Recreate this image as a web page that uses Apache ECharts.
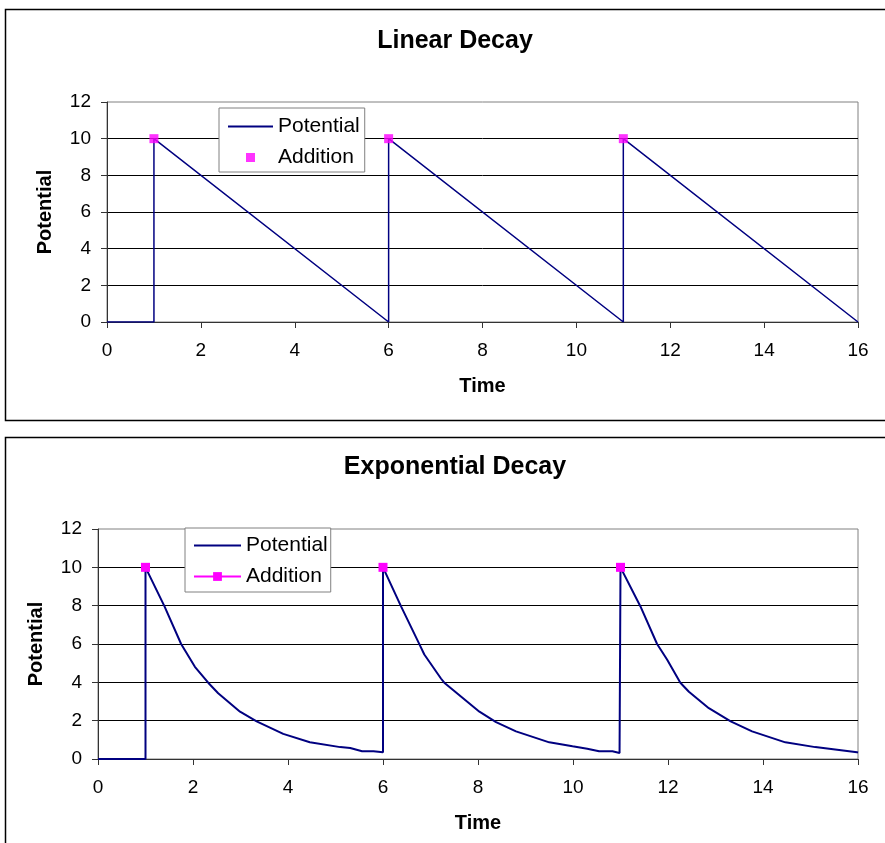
<!DOCTYPE html>
<html>
<head>
<meta charset="utf-8">
<script src="https://cdn.jsdelivr.net/npm/echarts@6/dist/echarts.min.js"></script>
<style>
html,body{margin:0;padding:0;background:#fff;overflow:hidden;}
#chart{width:910px;height:843px;}
</style>
</head>
<body>
<div id="chart"></div>
<script>
// ---- Linear decay data ----
const linearTime      = [0, 1, 1, 6, 6, 11, 11, 16];
const linearPotential = [0, 0, 10, 0, 10, 0, 10, 0];
const linearAddTime   = [1, 6, 11];
const linearAddValue  = [10, 10, 10];

// ---- Exponential decay data ----
const expTime = [
  0, 1, 1, 1.40, 1.75, 2.04, 2.32, 2.53, 2.99, 3.34, 3.90, 4.46, 5.10, 5.31, 5.56, 5.80, 6.00,
  6.00, 6.38, 6.76, 6.87, 7.22, 7.29, 8.03, 8.38, 8.80, 9.50, 9.99, 10.30, 10.55, 10.83, 10.98,
  11.00, 11.42, 11.77, 11.98, 12.26, 12.44, 12.86, 13.32, 13.77, 14.47, 15.10, 15.98, 16.00
];
const expPotential = [
  0, 0, 10, 7.96, 6.00, 4.81, 3.98, 3.43, 2.47, 1.96, 1.31, 0.87, 0.62, 0.57, 0.40, 0.40, 0.35,
  10, 7.96, 6.02, 5.45, 4.20, 3.98, 2.47, 1.92, 1.44, 0.87, 0.66, 0.54, 0.40, 0.40, 0.31,
  10, 7.96, 6.00, 5.19, 3.98, 3.51, 2.65, 1.96, 1.44, 0.87, 0.62, 0.35, 0.33
];
const expAddTime  = [1, 6, 11];
const expAddValue = [10, 10, 10];

const xTicks = {min: 0, max: 16, interval: 2};
const yTicks = {min: 0, max: 12, interval: 2};

const pairs = (xs, ys) => xs.map((x, i) => [x, ys[i]]);
// Addition markers in the exponential chart: a line series whose points are separated by gaps
const withGaps = (xs, ys) => {
  const out = [];
  xs.forEach((x, i) => { if (i > 0) out.push('-'); out.push([x, ys[i]]); });
  return out;
};

const FONT = '"Liberation Sans", Arial, sans-serif';
const NAVY = '#000080';
const MAGENTA = '#FF00FF';
const SQUARE = 'path://M0 0H10V10H0Z';

function xAxisOpt(gridIndex) {
  return {
    type: 'value', gridIndex, min: xTicks.min, max: xTicks.max, interval: xTicks.interval,
    name: 'Time', nameLocation: 'middle', nameGap: 54,
    nameTextStyle: {fontFamily: FONT, fontSize: 20, fontWeight: 'bold', color: '#000'},
    axisLine: {show: true, onZero: false, lineStyle: {color: '#333', width: 1}},
    axisTick: {show: true, length: 6, lineStyle: {color: '#333'}},
    axisLabel: {fontFamily: FONT, fontSize: 19, color: '#000', margin: 19},
    splitLine: {show: false}
  };
}
function yAxisOpt(gridIndex) {
  return {
    type: 'value', gridIndex, min: yTicks.min, max: yTicks.max, interval: yTicks.interval,
    name: 'Potential', nameLocation: 'middle', nameGap: 52,
    nameTextStyle: {fontFamily: FONT, fontSize: 20, fontWeight: 'bold', color: '#000'},
    axisLine: {show: true, lineStyle: {color: '#333', width: 1}},
    axisTick: {show: true, length: 6, lineStyle: {color: '#333'}},
    axisLabel: {fontFamily: FONT, fontSize: 19, color: '#000', margin: 16},
    splitLine: {show: true, showMaxLine: false, lineStyle: {color: '#000', width: 1}}
  };
}
function legendOpt(left, top, items, itemWidth, itemHeight, pad) {
  return {
    orient: 'vertical', left, top, data: items,
    itemWidth, itemHeight, itemGap: 10,
    padding: pad,
    borderColor: '#808080', borderWidth: 1, backgroundColor: '#fff',
    formatter: n => n.split('#')[0],
    textStyle: {fontFamily: FONT, fontSize: 21, color: '#000'},
    selectedMode: false
  };
}
const noDot = {color: 'rgba(0,0,0,0)', borderWidth: 0};

const chart = echarts.init(document.getElementById('chart'), null, {renderer: 'canvas'});
chart.setOption({
  backgroundColor: '#fff',
  animation: false,
  graphic: [
    {type: 'rect', z: -10, shape: {x: 5.5, y: 9.5, width: 900, height: 411}, style: {fill: 'none', stroke: '#000', lineWidth: 1.5}},
    {type: 'rect', z: -10, shape: {x: 5.5, y: 437.5, width: 900, height: 420}, style: {fill: 'none', stroke: '#000', lineWidth: 1.5}}
  ],
  title: [
    {text: 'Linear Decay', left: 'center', top: 29, padding: 0,
     textStyle: {fontFamily: FONT, fontSize: 25, fontWeight: 'bold', color: '#000'}},
    {text: 'Exponential Decay', left: 'center', top: 455, padding: 0,
     textStyle: {fontFamily: FONT, fontSize: 25, fontWeight: 'bold', color: '#000'}}
  ],
  legend: [
    legendOpt(219, 108, [
      {name: 'Potential', itemStyle: noDot},
      {name: 'Addition', icon: SQUARE}
    ], 45, 9, [8, 5, 4, 8]),
    legendOpt(185, 528, [
      {name: 'Potential#2', itemStyle: noDot},
      {name: 'Addition#2'}
    ], 47, 11, [7, 3, 5, 8])
  ],
  grid: [
    {left: 107, right: 52, top: 102, height: 220, show: true, borderColor: '#808080', borderWidth: 1, backgroundColor: '#fff', containLabel: false},
    {left: 98, right: 52, top: 529, height: 230, show: true, borderColor: '#808080', borderWidth: 1, backgroundColor: '#fff', containLabel: false}
  ],
  xAxis: [xAxisOpt(0), xAxisOpt(1)],
  yAxis: [yAxisOpt(0), yAxisOpt(1)],
  series: [
    {name: 'Potential', type: 'line', xAxisIndex: 0, yAxisIndex: 0,
     data: pairs(linearTime, linearPotential), symbol: 'none',
     lineStyle: {color: NAVY, width: 1.5}, itemStyle: {color: NAVY}, z: 3},
    {name: 'Addition', type: 'scatter', xAxisIndex: 0, yAxisIndex: 0,
     data: pairs(linearAddTime, linearAddValue), symbol: 'rect', symbolSize: 9,
     itemStyle: {color: MAGENTA}, z: 5},
    {name: 'Potential#2', type: 'line', xAxisIndex: 1, yAxisIndex: 1,
     data: pairs(expTime, expPotential), symbol: 'none',
     lineStyle: {color: NAVY, width: 2}, itemStyle: {color: NAVY}, z: 3},
    {name: 'Addition#2', type: 'line', xAxisIndex: 1, yAxisIndex: 1,
     data: withGaps(expAddTime, expAddValue), symbol: 'rect', symbolSize: 9, showSymbol: true,
     connectNulls: false,
     lineStyle: {color: MAGENTA, width: 1}, itemStyle: {color: MAGENTA}, z: 5}
  ]
});
</script>
</body>
</html>
